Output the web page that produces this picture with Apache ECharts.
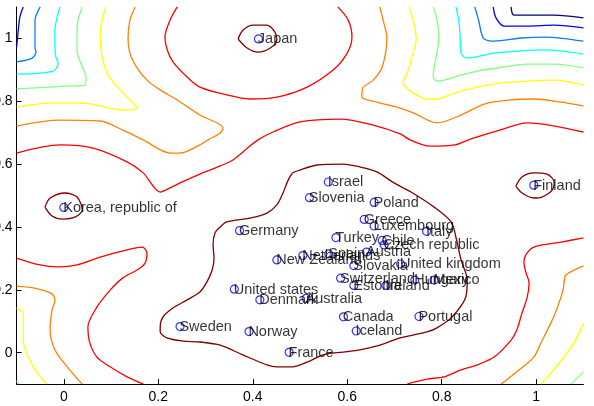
<!DOCTYPE html>
<html>
<head>
<meta charset="utf-8">
<script src="https://cdn.jsdelivr.net/npm/echarts@6/dist/echarts.min.js"></script>
<style>
html,body{margin:0;padding:0;background:#fff;}
#chart{width:594px;height:406px;}
</style>
</head>
<body>
<div id="chart"></div>
<script>
// ---- Countries (points) ----
const countries = ["Japan","Korea, republic of","Finland","Israel","Slovenia","Poland","Greece","Luxembourg","Italy","Germany","Turkey","Chile","Czech republic","Austria","New Zealand","Netherlands","Spain","Slovakia","United kingdom","Switzerland","Estonia","Ireland","Hungary","Mexico","United states","Denmark","Australia","Canada","Iceland","Norway","France","Sweden","Portugal"];
const countryX = [0.412,0.000,0.995,0.560,0.520,0.657,0.636,0.657,0.768,0.372,0.576,0.674,0.678,0.641,0.451,0.506,0.561,0.614,0.713,0.586,0.614,0.682,0.743,0.784,0.361,0.415,0.513,0.592,0.619,0.392,0.477,0.246,0.752];
const countryY = [0.998,0.462,0.533,0.543,0.493,0.478,0.424,0.403,0.386,0.388,0.366,0.357,0.343,0.320,0.295,0.309,0.314,0.277,0.282,0.237,0.214,0.214,0.231,0.231,0.202,0.168,0.173,0.114,0.069,0.067,0.001,0.083,0.115];

// ---- Axis ticks ----
const tickValues = [0, 0.2, 0.4, 0.6, 0.8, 1];

// ---- Contour lines (data coordinates) ----
// top-left corner
const blueTL = [[-0.086,1.1],[-0.093,1.068],[-0.097,1.017],[-0.1,0.972]];
const lightBlueTL = [[-0.050,1.1],[-0.057,1.079],[-0.061,1.058],[-0.061,1.017],[-0.061,0.970],[-0.059,0.957],[-0.067,0.937],[-0.1,0.925]];
const cyanTL = [[-0.008,1.1],[-0.014,1.068],[-0.019,1.026],[-0.019,0.985],[-0.017,0.941],[-0.012,0.921],[-0.023,0.896],[-0.1,0.886]];
const greenTL = [[0.039,1.1],[0.030,1.058],[0.028,1.017],[0.028,0.962],[0.039,0.909],[0.047,0.877],[0.045,0.851],[0.007,0.848],[-0.1,0.839]];
const yellowTL = [[0.089,1.1],[0.081,1.058],[0.077,1.017],[0.081,0.941],[0.094,0.883],[0.119,0.836],[0.140,0.804],[0.155,0.778],[0.125,0.772],[0.041,0.794],[-0.029,0.794],[-0.1,0.781]];
const orangeTL = [[-0.1,0.721],[-0.008,0.740],[0.077,0.737],[0.125,0.708],[0.168,0.677],[0.225,0.635],[0.246,0.635],[0.288,0.661],[0.309,0.680],[0.331,0.699],[0.337,0.715],[0.288,0.756],[0.240,0.804],[0.204,0.836],[0.176,0.867],[0.155,0.906],[0.140,0.953],[0.136,1.004],[0.140,1.058],[0.151,1.1]];
// top middle / right
const redJapanArc = [[0.240,1.1],[0.225,1.058],[0.214,1.004],[0.219,0.963],[0.231,0.925],[0.261,0.877],[0.288,0.845],[0.345,0.820],[0.394,0.807],[0.451,0.813],[0.515,0.845],[0.570,0.899],[0.600,0.953],[0.610,1.004],[0.602,1.058],[0.580,1.1]];
const orangeTR = [[0.669,1.1],[0.676,1.058],[0.684,1.001],[0.674,0.909],[0.655,0.867],[0.633,0.842],[0.631,0.813],[0.663,0.797],[0.712,0.778],[0.741,0.762],[0.790,0.731],[0.841,0.756],[0.890,0.791],[0.947,0.804],[0.995,0.807],[1.053,0.797],[1.1,0.785]];
const yellowTR = [[0.731,1.1],[0.741,1.049],[0.746,0.998],[0.737,0.941],[0.727,0.890],[0.718,0.858],[0.737,0.829],[0.769,0.807],[0.790,0.807],[0.826,0.826],[0.875,0.845],[0.926,0.858],[0.981,0.864],[1.038,0.867],[1.1,0.851]];
const greenTR = [[0.782,1.1],[0.790,1.058],[0.794,1.004],[0.790,0.953],[0.784,0.909],[0.782,0.877],[0.792,0.864],[0.841,0.883],[0.875,0.896],[0.932,0.909],[0.981,0.918],[1.038,0.918],[1.1,0.906]];
const cyanTR = [[0.830,1.1],[0.836,1.058],[0.839,1.004],[0.841,0.953],[0.853,0.937],[0.911,0.953],[0.968,0.960],[1.017,0.963],[1.1,0.950]];
const lightBlueTR = [[0.870,1.1],[0.875,1.074],[0.879,1.052],[0.884,1.017],[0.890,0.998],[0.911,0.991],[0.968,1.001],[1.017,1.004],[1.1,0.991]];
const blueTR = [[0.909,1.1],[0.915,1.065],[0.932,1.039],[0.981,1.039],[1.038,1.042],[1.1,1.033]];
const navyTR = [[0.947,1.1],[0.953,1.074],[1.038,1.074],[1.1,1.065]];
// red band across the middle
const redUpper = [[-0.1,0.635],[-0.008,0.661],[0.062,0.651],[0.134,0.607],[0.168,0.572],[0.204,0.511],[0.225,0.524],[0.246,0.540],[0.288,0.568],[0.331,0.594],[0.358,0.613],[0.384,0.645],[0.411,0.677],[0.443,0.702],[0.500,0.734],[0.585,0.743],[0.655,0.724],[0.712,0.696],[0.733,0.677],[0.775,0.657],[0.828,0.661],[0.862,0.680],[0.923,0.708],[0.981,0.731],[1.040,0.721],[1.1,0.702]];
const redLowerLeft = [[-0.1,0.301],[-0.050,0.279],[-0.014,0.273],[0.028,0.279],[0.077,0.304],[0.134,0.327],[0.166,0.336],[0.176,0.317],[0.172,0.285],[0.155,0.263],[0.125,0.238],[0.098,0.199],[0.070,0.145],[0.051,0.082],[0.055,0.031],[0.070,-0.014],[0.098,-0.045],[0.134,-0.077],[0.168,-0.1]];
const redLowerRight = [[1.1,0.365],[1.053,0.352],[0.995,0.336],[0.978,0.311],[0.974,0.288],[0.978,0.257],[0.985,0.222],[0.981,0.177],[0.970,0.126],[0.959,0.072],[0.947,0.040],[0.911,-0.014],[0.875,-0.039],[0.841,-0.055],[0.805,-0.077],[0.769,-0.084],[0.735,-0.096],[0.727,-0.1]];
// bottom corners
const orangeBL = [[-0.1,0.212],[-0.065,0.206],[-0.025,0.187],[-0.019,0.164],[-0.025,0.136],[-0.029,0.072],[-0.019,0.009],[0.007,-0.045],[0.039,-0.1]];
const yellowBL = [[-0.1,0.142],[-0.086,0.126],[-0.086,0.040],[-0.065,-0.045],[-0.036,-0.1]];
const greenBL = [[-0.1,-0.090],[-0.095,-0.1]];
const orangeBR = [[1.1,0.276],[1.063,0.247],[1.059,0.222],[1.057,0.199],[1.043,0.136],[1.031,0.094],[1.010,0.031],[0.995,-0.014],[0.959,-0.061],[0.926,-0.1]];
const yellowBR = [[1.1,0.094],[1.080,0.031],[1.057,-0.017],[1.031,-0.065],[1.010,-0.1]];
const greenBR = [[1.1,-0.061],[1.074,-0.1]];
// highest level: closed loops
const darkRedJapan = [[0.369,0.998],[0.379,1.026],[0.401,1.042],[0.430,1.042],[0.447,1.020],[0.451,0.995],[0.437,0.969],[0.411,0.956],[0.388,0.969],[0.369,0.998]];
const darkRedKorea = [[-0.040,0.463],[-0.029,0.492],[0.003,0.508],[0.028,0.495],[0.039,0.454],[0.024,0.432],[-0.002,0.425],[-0.025,0.435],[-0.040,0.463]];
const darkRedFinland = [[0.957,0.530],[0.970,0.559],[0.995,0.572],[1.023,0.568],[1.038,0.543],[1.034,0.517],[1.012,0.495],[0.995,0.492],[0.970,0.508],[0.957,0.530]];
const darkRedCluster = [[0.331,0.400],[0.345,0.416],[0.394,0.428],[0.430,0.444],[0.451,0.470],[0.464,0.508],[0.475,0.549],[0.485,0.572],[0.500,0.581],[0.536,0.597],[0.591,0.600],[0.627,0.591],[0.663,0.575],[0.699,0.540],[0.735,0.511],[0.784,0.463],[0.820,0.416],[0.830,0.368],[0.841,0.295],[0.854,0.231],[0.851,0.177],[0.822,0.114],[0.790,0.079],[0.769,0.066],[0.712,0.047],[0.669,0.024],[0.627,0.009],[0.591,0.002],[0.549,-0.007],[0.515,-0.030],[0.485,-0.045],[0.451,-0.045],[0.430,-0.039],[0.379,-0.007],[0.331,0.024],[0.288,0.034],[0.252,0.037],[0.218,0.047],[0.204,0.066],[0.204,0.082],[0.210,0.114],[0.231,0.142],[0.261,0.168],[0.288,0.193],[0.303,0.225],[0.314,0.263],[0.318,0.301],[0.316,0.343],[0.320,0.381],[0.331,0.400]];

const C = {navy:'#00008F', blue:'#0000FF', lightBlue:'#0080FF', cyan:'#00FFFF', green:'#80FF80', yellow:'#FFFF00', orange:'#FF8000', red:'#FF0000', darkRed:'#800000'};
const contours = [
  [blueTL,C.blue],[lightBlueTL,C.lightBlue],[cyanTL,C.cyan],[greenTL,C.green],[yellowTL,C.yellow],[orangeTL,C.orange],
  [redJapanArc,C.red],[orangeTR,C.orange],[yellowTR,C.yellow],[greenTR,C.green],[cyanTR,C.cyan],[lightBlueTR,C.lightBlue],[blueTR,C.blue],[navyTR,C.navy],
  [redUpper,C.red],[redLowerLeft,C.red],[redLowerRight,C.red],
  [orangeBL,C.orange],[yellowBL,C.yellow],[greenBL,C.green],[orangeBR,C.orange],[yellowBR,C.yellow],[greenBR,C.green],
  [darkRedJapan,C.darkRed],[darkRedKorea,C.darkRed],[darkRedFinland,C.darkRed],[darkRedCluster,C.darkRed]
];

const series = contours.map(([d,col]) => ({
  type:'line', data:d, showSymbol:false, smooth:0.3, clip:true, silent:true,
  lineStyle:{color:col, width:1.3}, z:1
}));
series.push({
  type:'scatter',
  data: countries.map((n,i)=>({name:n, value:[countryX[i], countryY[i]]})),
  symbol:'circle', symbolSize:8,
  itemStyle:{color:'rgba(0,0,0,0)', borderColor:'#0000FF', borderWidth:1.2},
  label:{show:true, formatter:p=>p.name, position:[4,4], offset:[0,1], align:'left', verticalAlign:'middle',
         color:'#000', fontFamily:'Liberation Sans', fontSize:14.5},
  z:3
});

const axisCommon = {
  type:'value', min:-0.1, max:1.1,
  splitLine:{show:false},
  axisLine:{show:true, onZero:false, lineStyle:{color:'#000', width:1}},
  axisTick:{show:true, inside:true, length:5, customValues:tickValues, lineStyle:{color:'#000'}},
  axisLabel:{customValues:tickValues, color:'#000', fontFamily:'Liberation Sans', fontSize:14, formatter:v=>String(v)}
};

const chart = echarts.init(document.getElementById('chart'), null, {renderer:'canvas'});
chart.setOption({
  animation:false,
  backgroundColor:'#fff',
  grid:{left:16.6, right:10.6, top:6.9, bottom:21.9, containLabel:false, outerBoundsMode:'none'},
  xAxis: Object.assign({}, axisCommon, {position:'bottom', axisLabel:Object.assign({}, axisCommon.axisLabel, {margin:6})}),
  yAxis: Object.assign({}, axisCommon, {position:'left', axisLabel:Object.assign({}, axisCommon.axisLabel, {margin:4})}),
  series: series
});
</script>
</body>
</html>
